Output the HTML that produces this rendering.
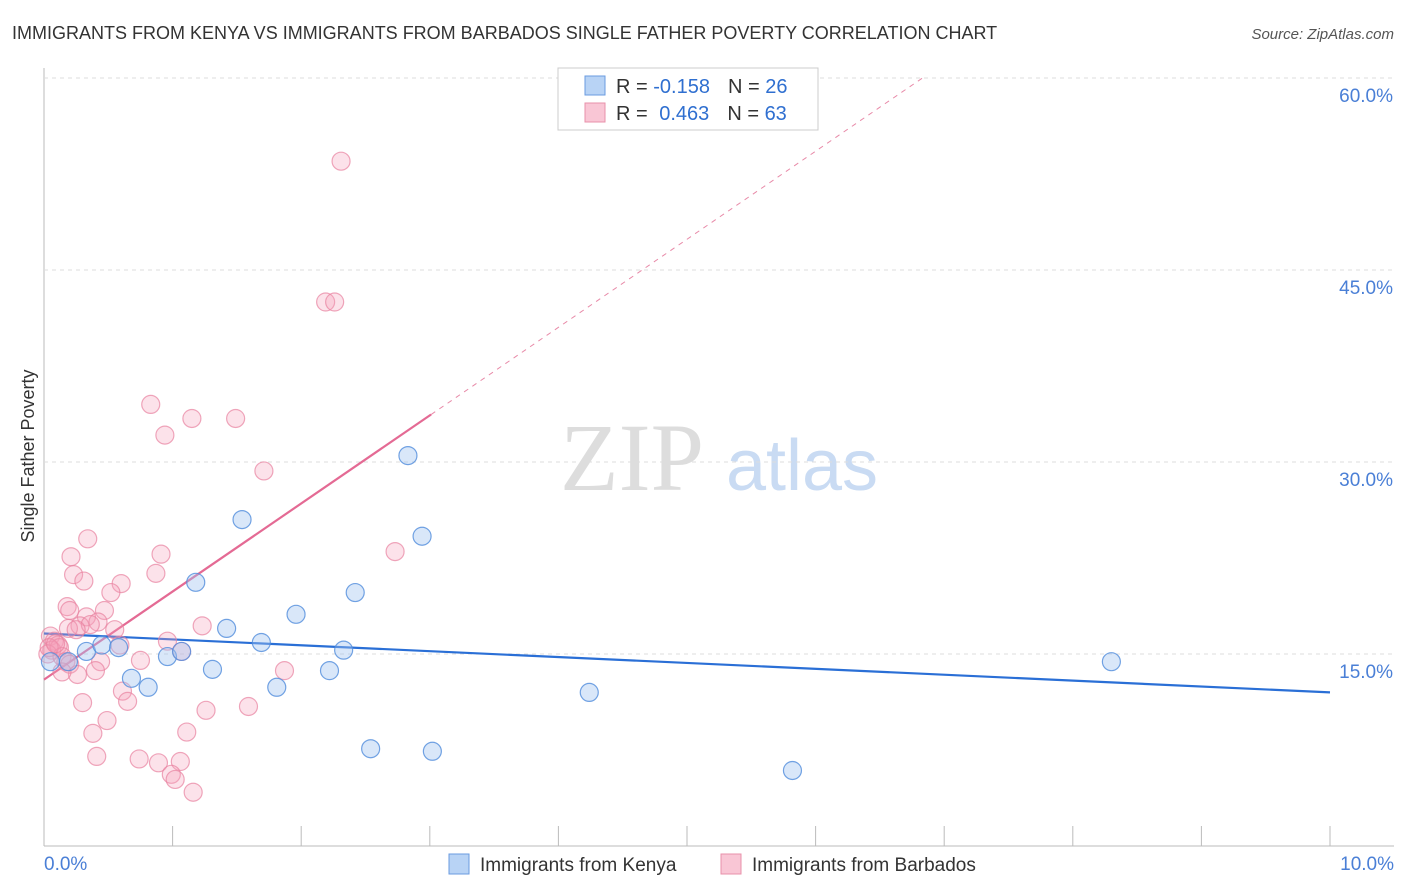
<!DOCTYPE html>
<html><head><meta charset="utf-8"><style>
body{margin:0;background:#fff;font-family:"Liberation Sans",sans-serif}
svg{display:block}
</style></head><body>
<svg id="c" width="1406" height="892">
<text x="12" y="39" font-size="18" fill="#333">IMMIGRANTS FROM KENYA VS IMMIGRANTS FROM BARBADOS SINGLE FATHER POVERTY CORRELATION CHART</text>
<text x="1394" y="39" font-size="15" fill="#555" font-style="italic" text-anchor="end">Source: ZipAtlas.com</text>
<text transform="translate(34,456) rotate(-90)" font-size="18" fill="#333" text-anchor="middle">Single Father Poverty</text>
<text x="632" y="490" font-size="96" fill="#ddd" font-family="Liberation Serif,serif" text-anchor="middle">ZIP</text>
<text x="802" y="490" font-size="72" fill="#c9dbf3" text-anchor="middle">atlas</text>
<g id="grid"></g><g id="trend"></g><g id="pts"></g>
<g>
<rect x="558" y="68" width="260" height="62" fill="#fff" stroke="#ccc"/>
<rect x="585" y="76" width="20" height="19" fill="#b8d3f5" stroke="#6a9be0"/>
<rect x="585" y="103" width="20" height="19" fill="#f9c6d5" stroke="#e890aa"/>
<text x="616" y="93" font-size="20" fill="#333">R = <tspan fill="#2f6fd0">-0.158</tspan><tspan dx="18">N = </tspan><tspan fill="#2f6fd0">26</tspan></text>
<text x="616" y="120" font-size="20" fill="#333">R = <tspan fill="#2f6fd0" dx="6">0.463</tspan><tspan dx="18">N = </tspan><tspan fill="#2f6fd0">63</tspan></text>
</g>
<g>
<rect x="449" y="854" width="20" height="20" fill="#b8d3f5" stroke="#6a9be0"/>
<text x="480" y="871" font-size="19" fill="#333">Immigrants from Kenya</text>
<rect x="721" y="854" width="20" height="20" fill="#f9c6d5" stroke="#e890aa"/>
<text x="752" y="871" font-size="19" fill="#333">Immigrants from Barbados</text>
</g>
</svg>
<script>
const yTicks=[15,30,45,60];
const xTickLabels=["0.0%","10.0%"];
const kenyaX=[0.05,0.19,0.33,0.45,0.58,0.68,0.81,0.96,1.07,1.18,1.31,1.42,1.54,1.69,1.81,1.96,2.22,2.33,2.42,2.54,2.83,2.94,3.02,4.24,5.82,8.30];
const kenyaY=[14.4,14.4,15.2,15.7,15.5,13.1,12.4,14.8,15.2,20.6,13.8,17.0,25.5,15.9,12.4,18.1,13.7,15.3,19.8,7.6,30.5,24.2,7.4,12.0,5.9,14.4];
const barbX=[2.31,2.19,2.26,0.83,1.15,1.49,0.94,1.71,0.34,2.73,0.21,0.91,0.23,0.87,0.31,0.60,0.52,0.18,0.20,0.47,0.33,0.42,0.28,0.36,0.19,0.25,0.55,1.23,0.96,0.05,0.08,0.11,0.06,0.12,0.03,0.14,1.07,0.59,0.17,0.44,0.75,0.20,0.40,0.26,0.14,1.87,0.61,0.65,0.30,0.49,1.26,1.59,0.38,1.11,0.41,0.74,0.89,1.06,0.99,1.02,1.16,0.04,0.09];
const barbY=[53.5,42.5,42.5,34.5,33.4,33.4,32.1,29.3,24.0,23.0,22.6,22.8,21.2,21.3,20.7,20.5,19.8,18.7,18.4,18.4,17.9,17.5,17.2,17.3,17.0,16.9,16.9,17.2,16.0,16.4,16.0,15.7,15.3,15.5,15.0,14.8,15.2,15.7,14.4,14.4,14.5,14.2,13.7,13.4,13.6,13.7,12.1,11.3,11.2,9.8,10.6,10.9,8.8,8.9,7.0,6.8,6.5,6.6,5.6,5.2,4.2,15.5,15.8];
const kenyaTrend=[16.6,12.0];
const barbTrend=[13.0,19.88];
const NS="http://www.w3.org/2000/svg";
const X0=44,X1=1330,Y0=846;
const sx=v=>X0+(v/10)*(X1-X0);
const sy=v=>Y0-v*12.8;
function mk(t,a,p){const e=document.createElementNS(NS,t);for(const k in a)e.setAttribute(k,a[k]);p.appendChild(e);return e;}
const grid=document.getElementById('grid');
const ax=mk('line',{x1:X0,x2:X0,y1:68,y2:Y0,stroke:'#bbb'},grid);


const bx=mk('line',{x1:X0,x2:1394,y1:Y0,y2:Y0,stroke:'#bbb'},grid);


for(let i=0;i<=10;i++){const t=mk('line',{x1:sx(i),x2:sx(i),y1:826,y2:Y0,stroke:'#bbb'},grid);

}
yTicks.forEach(v=>{const l=mk('line',{x1:X0,x2:1394,y1:sy(v),y2:sy(v),stroke:'#ddd','stroke-dasharray':'4,4'},grid);


const t=mk('text',{x:1393,y:sy(v)+24,'font-size':19,fill:'#4a7fd6','text-anchor':'end'},grid);t.textContent=v.toFixed(1)+'%';

});
const xl0=mk('text',{x:44,y:870,'font-size':19,fill:'#4a7fd6'},grid);xl0.textContent=xTickLabels[0];


const xl1=mk('text',{x:1394,y:870,'font-size':19,fill:'#4a7fd6','text-anchor':'end'},grid);xl1.textContent=xTickLabels[1];


const pts=document.getElementById('pts');
barbX.forEach((x,i)=>{const c=mk('circle',{cx:sx(x),cy:sy(barbY[i]),r:9,fill:'rgba(244,160,185,0.3)',stroke:'rgba(232,130,160,0.7)','stroke-width':1.2},pts);

});
kenyaX.forEach((x,i)=>{const c=mk('circle',{cx:sx(x),cy:sy(kenyaY[i]),r:9,fill:'rgba(160,195,240,0.4)',stroke:'rgba(80,140,220,0.8)','stroke-width':1.2},pts);

});
const tr=document.getElementById('trend');
const slope=(barbTrend[1]-barbTrend[0])/1;
const bEnd=(60-barbTrend[0])/slope;
const ds=mk('line',{x1:sx(3.01),y1:sy(barbTrend[0]+slope*3.01),x2:sx(bEnd),y2:sy(60),stroke:'#e88aa8','stroke-width':1,'stroke-dasharray':'5,5'},tr);


const pl=mk('line',{x1:sx(0),y1:sy(barbTrend[0]),x2:sx(3.01),y2:sy(barbTrend[0]+slope*3.01),stroke:'#e46a94','stroke-width':2.2},tr);


const kl=mk('line',{x1:sx(0),y1:sy(kenyaTrend[0]),x2:sx(10),y2:sy(kenyaTrend[1]),stroke:'#2a6fd6','stroke-width':2.2},tr);


</script>
</body></html>
